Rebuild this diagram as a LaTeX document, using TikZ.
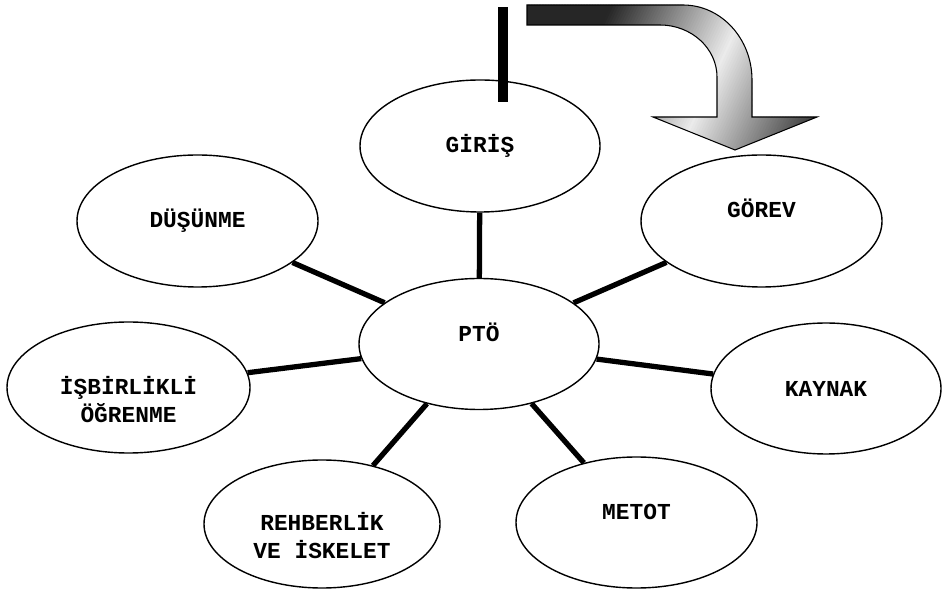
\documentclass[tikz,border=0pt]{standalone}
\usepackage{fontspec}
\setmainfont{Liberation Mono}
\usetikzlibrary{shapes}
\tikzset{
  bubble/.style={ellipse, draw, line width=0.8pt, fill=white, inner sep=0pt,
    minimum width=4.8cm, minimum height=2.62cm, align=center,
    font=\bfseries\fontsize{13}{16}\selectfont},
  spoke/.style={line width=3pt}
}
% struts to move a label up or down inside its ellipse
\newcommand\txtup[1]{\rule[-#1]{0pt}{#1}}
\newcommand\txtdown[1]{\rule{0pt}{#1}}
% outline of the bent arrow
\newcommand\bentarrow{(10.54,11.74) -- (13.66,11.74)
    .. controls (14.42,11.74) and (15.04,11.07) .. (15.04,10.24)
    -- (15.04,9.50) -- (16.34,9.50) -- (14.70,8.84) -- (13.06,9.50)
    -- (14.34,9.50) -- (14.34,10.30)
    .. controls (14.34,10.87) and (13.83,11.34) .. (13.20,11.34)
    -- (10.54,11.34) -- cycle}

\begin{document}
\begin{tikzpicture}[x=1cm,y=1cm]
  \useasboundingbox (0,0) rectangle (18.86,11.84);

  %% bubbles
  \node[bubble] (pto) at (9.58,4.96) {PTÖ\txtup{.48cm}};
  \node[bubble, minimum height=2.64cm] (giris) at (9.60,8.92) {GİRİŞ};
  \node[bubble, minimum width=4.82cm, minimum height=2.64cm] (gorev) at (15.23,7.42) {GÖREV\txtup{.52cm}};
  \node[bubble, minimum width=4.82cm, minimum height=2.64cm] (dusunme) at (3.95,7.42) {DÜŞÜNME};
  \node[bubble, minimum width=4.86cm] (isbirlik) at (2.57,4.09) {\txtdown{.85cm}İŞBİRLİKLİ\\ÖĞRENME};
  \node[bubble, minimum width=4.6cm] (kaynak) at (16.52,4.07) {KAYNAK};
  \node[bubble, minimum width=4.82cm] (metot) at (12.73,1.39) {METOT\txtup{.44cm}};
  \node[bubble, minimum width=4.72cm, minimum height=2.56cm] (rehber) at (6.44,1.36) {\txtdown{.81cm}REHBERLİK\\VE İSKELET};

  %% spokes
  \draw[spoke] (pto) -- (giris);
  \draw[spoke] (pto) -- (gorev);
  \draw[spoke] (pto) -- (dusunme);
  \draw[spoke] (pto) -- (isbirlik);
  \draw[spoke] (pto) -- (kaynak);
  \draw[spoke] (pto) -- (metot);
  \draw[spoke] (pto) -- (rehber);

  %% bar over the top bubble
  \fill (9.96,11.70) rectangle (10.16,9.80);

  %% bent arrow, grey fade done in strips
  \begin{scope}
    \clip \bentarrow;
    \begin{scope}[shift={(13.9,10.4)}, rotate=-25]
      \foreach \s in {-4.6,-4.55,...,4.6} {
        \pgfmathsetmacro\lvl{min(85,8+75*abs(\s-0.4)/2.4)}
        \fill[black!\lvl] (\s-0.04,-6) rectangle (\s+0.04,6);
      }
    \end{scope}
  \end{scope}
  \draw[line width=0.6pt] \bentarrow;
\end{tikzpicture}
\end{document}
